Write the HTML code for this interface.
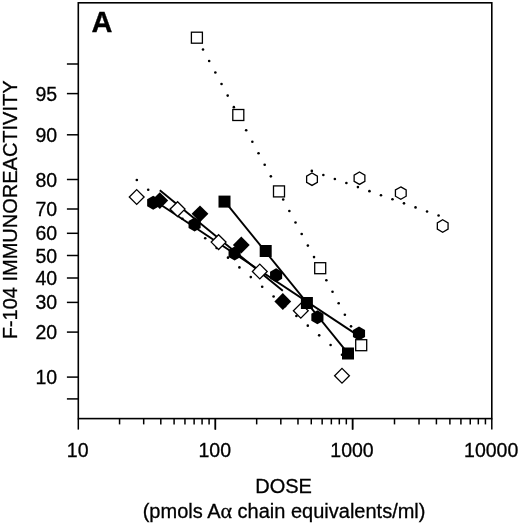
<!DOCTYPE html><html><head><meta charset="utf-8"><style>html,body{margin:0;padding:0;background:#fff;}svg{display:block;will-change:transform;}text{font-family:"Liberation Sans",sans-serif;fill:#000;stroke:#000;stroke-width:0.3px;}</style></head><body>
<svg width="520" height="525" viewBox="0 0 520 525">
<rect x="0" y="0" width="520" height="525" fill="#fff"/>
<rect x="78.3" y="2.8" width="413.5" height="415.8" fill="none" stroke="#000" stroke-width="1.6"/>
<line x1="66.9" y1="64.0" x2="78.3" y2="64.0" stroke="#000" stroke-width="1.5"/>
<line x1="66.9" y1="93.6" x2="78.3" y2="93.6" stroke="#000" stroke-width="1.5"/>
<line x1="66.9" y1="134.8" x2="78.3" y2="134.8" stroke="#000" stroke-width="1.5"/>
<line x1="66.9" y1="179.5" x2="78.3" y2="179.5" stroke="#000" stroke-width="1.5"/>
<line x1="66.9" y1="209.0" x2="78.3" y2="209.0" stroke="#000" stroke-width="1.5"/>
<line x1="66.9" y1="233.3" x2="78.3" y2="233.3" stroke="#000" stroke-width="1.5"/>
<line x1="66.9" y1="255.5" x2="78.3" y2="255.5" stroke="#000" stroke-width="1.5"/>
<line x1="66.9" y1="278.0" x2="78.3" y2="278.0" stroke="#000" stroke-width="1.5"/>
<line x1="66.9" y1="302.4" x2="78.3" y2="302.4" stroke="#000" stroke-width="1.5"/>
<line x1="66.9" y1="332.1" x2="78.3" y2="332.1" stroke="#000" stroke-width="1.5"/>
<line x1="66.9" y1="377.1" x2="78.3" y2="377.1" stroke="#000" stroke-width="1.5"/>
<line x1="66.9" y1="398.9" x2="78.3" y2="398.9" stroke="#000" stroke-width="1.5"/>
<line x1="78.3" y1="418.6" x2="78.3" y2="429.6" stroke="#000" stroke-width="1.5"/>
<line x1="119.56" y1="418.6" x2="119.56" y2="424.4" stroke="#000" stroke-width="1.5"/>
<line x1="143.69" y1="418.6" x2="143.69" y2="424.4" stroke="#000" stroke-width="1.5"/>
<line x1="160.81" y1="418.6" x2="160.81" y2="424.4" stroke="#000" stroke-width="1.5"/>
<line x1="174.09" y1="418.6" x2="174.09" y2="424.4" stroke="#000" stroke-width="1.5"/>
<line x1="184.95" y1="418.6" x2="184.95" y2="424.4" stroke="#000" stroke-width="1.5"/>
<line x1="194.12" y1="418.6" x2="194.12" y2="424.4" stroke="#000" stroke-width="1.5"/>
<line x1="202.07" y1="418.6" x2="202.07" y2="424.4" stroke="#000" stroke-width="1.5"/>
<line x1="209.08" y1="418.6" x2="209.08" y2="424.4" stroke="#000" stroke-width="1.5"/>
<line x1="215.35" y1="418.6" x2="215.35" y2="429.6" stroke="#000" stroke-width="1.5"/>
<line x1="215.35" y1="418.6" x2="215.35" y2="429.6" stroke="#000" stroke-width="1.5"/>
<line x1="256.67" y1="418.6" x2="256.67" y2="424.4" stroke="#000" stroke-width="1.5"/>
<line x1="280.83" y1="418.6" x2="280.83" y2="424.4" stroke="#000" stroke-width="1.5"/>
<line x1="297.98" y1="418.6" x2="297.98" y2="424.4" stroke="#000" stroke-width="1.5"/>
<line x1="311.28" y1="418.6" x2="311.28" y2="424.4" stroke="#000" stroke-width="1.5"/>
<line x1="322.15" y1="418.6" x2="322.15" y2="424.4" stroke="#000" stroke-width="1.5"/>
<line x1="331.34" y1="418.6" x2="331.34" y2="424.4" stroke="#000" stroke-width="1.5"/>
<line x1="339.3" y1="418.6" x2="339.3" y2="424.4" stroke="#000" stroke-width="1.5"/>
<line x1="346.32" y1="418.6" x2="346.32" y2="424.4" stroke="#000" stroke-width="1.5"/>
<line x1="352.6" y1="418.6" x2="352.6" y2="429.6" stroke="#000" stroke-width="1.5"/>
<line x1="352.6" y1="418.6" x2="352.6" y2="429.6" stroke="#000" stroke-width="1.5"/>
<line x1="394.5" y1="418.6" x2="394.5" y2="424.4" stroke="#000" stroke-width="1.5"/>
<line x1="419.02" y1="418.6" x2="419.02" y2="424.4" stroke="#000" stroke-width="1.5"/>
<line x1="436.41" y1="418.6" x2="436.41" y2="424.4" stroke="#000" stroke-width="1.5"/>
<line x1="449.9" y1="418.6" x2="449.9" y2="424.4" stroke="#000" stroke-width="1.5"/>
<line x1="460.92" y1="418.6" x2="460.92" y2="424.4" stroke="#000" stroke-width="1.5"/>
<line x1="470.24" y1="418.6" x2="470.24" y2="424.4" stroke="#000" stroke-width="1.5"/>
<line x1="478.31" y1="418.6" x2="478.31" y2="424.4" stroke="#000" stroke-width="1.5"/>
<line x1="485.43" y1="418.6" x2="485.43" y2="424.4" stroke="#000" stroke-width="1.5"/>
<line x1="491.8" y1="418.6" x2="491.8" y2="429.6" stroke="#000" stroke-width="1.5"/>
<text x="57.2" y="100.6" font-size="19.5" text-anchor="end">95</text>
<text x="57.2" y="141.8" font-size="19.5" text-anchor="end">90</text>
<text x="57.2" y="186.5" font-size="19.5" text-anchor="end">80</text>
<text x="57.2" y="216" font-size="19.5" text-anchor="end">70</text>
<text x="57.2" y="240.3" font-size="19.5" text-anchor="end">60</text>
<text x="57.2" y="262.5" font-size="19.5" text-anchor="end">50</text>
<text x="57.2" y="285" font-size="19.5" text-anchor="end">40</text>
<text x="57.2" y="309.4" font-size="19.5" text-anchor="end">30</text>
<text x="57.2" y="339.1" font-size="19.5" text-anchor="end">20</text>
<text x="57.2" y="384.1" font-size="19.5" text-anchor="end">10</text>
<text x="77.7" y="457.3" font-size="19.5" text-anchor="middle">10</text>
<text x="214.75" y="457.3" font-size="19.5" text-anchor="middle">100</text>
<text x="352" y="457.3" font-size="19.5" text-anchor="middle">1000</text>
<text x="491.2" y="457.3" font-size="19.5" text-anchor="middle">10000</text>
<text x="283.6" y="493.3" font-size="20" text-anchor="middle">DOSE</text>
<text x="284.1" y="517.7" font-size="20" text-anchor="middle">(pmols A<tspan font-family="Liberation Serif" font-size="22">&#945;</tspan> chain equivalents/ml)</text>
<text transform="translate(17.3,209.9) rotate(-90)" x="0" y="0" font-size="20" text-anchor="middle">F-104 IMMUNOREACTIVITY</text>
<text x="91.6" y="31.7" font-size="29" font-weight="bold">A</text>
<line x1="153.2" y1="199.82" x2="359" y2="336.15" stroke="#000" stroke-width="1.9"/>
<line x1="224.5" y1="201.1" x2="348" y2="353.39" stroke="#000" stroke-width="1.9"/>
<line x1="159.8" y1="190.34" x2="282.8" y2="290.64" stroke="#000" stroke-width="1.9"/>
<circle cx="196.85" cy="37.91" r="1.3" fill="#000"/>
<circle cx="203.02" cy="49.45" r="1.3" fill="#000"/>
<circle cx="209.18" cy="60.98" r="1.3" fill="#000"/>
<circle cx="215.35" cy="72.52" r="1.3" fill="#000"/>
<circle cx="221.52" cy="84.06" r="1.3" fill="#000"/>
<circle cx="227.69" cy="95.59" r="1.3" fill="#000"/>
<circle cx="233.85" cy="107.13" r="1.3" fill="#000"/>
<circle cx="240.02" cy="118.67" r="1.3" fill="#000"/>
<circle cx="246.19" cy="130.21" r="1.3" fill="#000"/>
<circle cx="252.35" cy="141.74" r="1.3" fill="#000"/>
<circle cx="258.52" cy="153.28" r="1.3" fill="#000"/>
<circle cx="264.69" cy="164.82" r="1.3" fill="#000"/>
<circle cx="270.85" cy="176.35" r="1.3" fill="#000"/>
<circle cx="277.02" cy="187.89" r="1.3" fill="#000"/>
<circle cx="283.19" cy="199.43" r="1.3" fill="#000"/>
<circle cx="289.36" cy="210.97" r="1.3" fill="#000"/>
<circle cx="295.52" cy="222.5" r="1.3" fill="#000"/>
<circle cx="301.69" cy="234.04" r="1.3" fill="#000"/>
<circle cx="307.86" cy="245.58" r="1.3" fill="#000"/>
<circle cx="314.02" cy="257.11" r="1.3" fill="#000"/>
<circle cx="320.19" cy="268.65" r="1.3" fill="#000"/>
<circle cx="326.36" cy="280.19" r="1.3" fill="#000"/>
<circle cx="332.52" cy="291.72" r="1.3" fill="#000"/>
<circle cx="338.69" cy="303.26" r="1.3" fill="#000"/>
<circle cx="344.86" cy="314.8" r="1.3" fill="#000"/>
<circle cx="351.02" cy="326.34" r="1.3" fill="#000"/>
<circle cx="357.19" cy="337.87" r="1.3" fill="#000"/>
<circle cx="311.82" cy="170.88" r="1.3" fill="#000"/>
<circle cx="323.34" cy="174.94" r="1.3" fill="#000"/>
<circle cx="334.87" cy="179" r="1.3" fill="#000"/>
<circle cx="346.39" cy="183.05" r="1.3" fill="#000"/>
<circle cx="357.91" cy="187.11" r="1.3" fill="#000"/>
<circle cx="369.44" cy="191.17" r="1.3" fill="#000"/>
<circle cx="380.96" cy="195.23" r="1.3" fill="#000"/>
<circle cx="392.48" cy="199.29" r="1.3" fill="#000"/>
<circle cx="404" cy="203.34" r="1.3" fill="#000"/>
<circle cx="415.53" cy="207.4" r="1.3" fill="#000"/>
<circle cx="427.05" cy="211.46" r="1.3" fill="#000"/>
<circle cx="438.57" cy="215.52" r="1.3" fill="#000"/>
<circle cx="136.82" cy="179.98" r="1.3" fill="#000"/>
<circle cx="148.22" cy="189.69" r="1.3" fill="#000"/>
<circle cx="159.62" cy="199.4" r="1.3" fill="#000"/>
<circle cx="171.01" cy="209.11" r="1.3" fill="#000"/>
<circle cx="182.41" cy="218.82" r="1.3" fill="#000"/>
<circle cx="193.81" cy="228.53" r="1.3" fill="#000"/>
<circle cx="205.21" cy="238.25" r="1.3" fill="#000"/>
<circle cx="216.61" cy="247.96" r="1.3" fill="#000"/>
<circle cx="228" cy="257.67" r="1.3" fill="#000"/>
<circle cx="239.4" cy="267.38" r="1.3" fill="#000"/>
<circle cx="250.8" cy="277.09" r="1.3" fill="#000"/>
<circle cx="262.2" cy="286.8" r="1.3" fill="#000"/>
<circle cx="273.6" cy="296.51" r="1.3" fill="#000"/>
<circle cx="284.99" cy="306.22" r="1.3" fill="#000"/>
<circle cx="296.39" cy="315.93" r="1.3" fill="#000"/>
<circle cx="307.79" cy="325.64" r="1.3" fill="#000"/>
<circle cx="319.19" cy="335.36" r="1.3" fill="#000"/>
<circle cx="330.59" cy="345.07" r="1.3" fill="#000"/>
<circle cx="341.98" cy="354.78" r="1.3" fill="#000"/>
<path d="M153.2,195.8 L159.26,199.3 L159.26,206.3 L153.2,209.8 L147.14,206.3 L147.14,199.3 Z" fill="#000"/>
<path d="M194.6,217.6 L200.66,221.1 L200.66,228.1 L194.6,231.6 L188.54,228.1 L188.54,221.1 Z" fill="#000"/>
<path d="M234.6,246.4 L240.66,249.9 L240.66,256.9 L234.6,260.4 L228.54,256.9 L228.54,249.9 Z" fill="#000"/>
<path d="M276.1,268.3 L282.16,271.8 L282.16,278.8 L276.1,282.3 L270.04,278.8 L270.04,271.8 Z" fill="#000"/>
<path d="M317.4,310.2 L323.46,313.7 L323.46,320.7 L317.4,324.2 L311.34,320.7 L311.34,313.7 Z" fill="#000"/>
<path d="M359,326.5 L365.06,330 L365.06,337 L359,340.5 L352.94,337 L352.94,330 Z" fill="#000"/>
<rect x="191.4" y="32.2" width="11" height="11" fill="#fff" stroke="#000" stroke-width="1.3"/>
<rect x="232.8" y="109.5" width="11" height="11" fill="#fff" stroke="#000" stroke-width="1.3"/>
<rect x="273.5" y="185.9" width="11" height="11" fill="#fff" stroke="#000" stroke-width="1.3"/>
<rect x="314.7" y="262.7" width="11" height="11" fill="#fff" stroke="#000" stroke-width="1.3"/>
<rect x="355.7" y="339.7" width="11" height="11" fill="#fff" stroke="#000" stroke-width="1.3"/>
<path d="M312,173 L317.37,176.1 L317.37,182.3 L312,185.4 L306.63,182.3 L306.63,176.1 Z" fill="#fff" stroke="#000" stroke-width="1.3"/>
<path d="M359.5,172 L364.87,175.1 L364.87,181.3 L359.5,184.4 L354.13,181.3 L354.13,175.1 Z" fill="#fff" stroke="#000" stroke-width="1.3"/>
<path d="M400.8,186.9 L406.17,190 L406.17,196.2 L400.8,199.3 L395.43,196.2 L395.43,190 Z" fill="#fff" stroke="#000" stroke-width="1.3"/>
<path d="M442.7,219.8 L448.07,222.9 L448.07,229.1 L442.7,232.2 L437.33,229.1 L437.33,222.9 Z" fill="#fff" stroke="#000" stroke-width="1.3"/>
<path d="M136.7,189.6 L144.1,197 L136.7,204.4 L129.3,197 Z" fill="#fff" stroke="#000" stroke-width="1.3"/>
<path d="M177.6,201.7 L185,209.1 L177.6,216.5 L170.2,209.1 Z" fill="#fff" stroke="#000" stroke-width="1.3"/>
<path d="M218.6,234.7 L226,242.1 L218.6,249.5 L211.2,242.1 Z" fill="#fff" stroke="#000" stroke-width="1.3"/>
<path d="M259.8,264.1 L267.2,271.5 L259.8,278.9 L252.4,271.5 Z" fill="#fff" stroke="#000" stroke-width="1.3"/>
<path d="M300.8,303.4 L308.2,310.8 L300.8,318.2 L293.4,310.8 Z" fill="#fff" stroke="#000" stroke-width="1.3"/>
<path d="M342,368.4 L349.4,375.8 L342,383.2 L334.6,375.8 Z" fill="#fff" stroke="#000" stroke-width="1.3"/>
<rect x="218.5" y="195.6" width="12" height="12" fill="#000"/>
<rect x="259.7" y="245" width="12" height="12" fill="#000"/>
<rect x="300.9" y="297" width="12" height="12" fill="#000"/>
<rect x="342" y="347.5" width="12" height="12" fill="#000"/>
<path d="M159.8,192.2 L168.2,200.6 L159.8,209 L151.4,200.6 Z" fill="#000"/>
<path d="M200,205.4 L208.4,213.8 L200,222.2 L191.6,213.8 Z" fill="#000"/>
<path d="M241.3,236.6 L249.7,245 L241.3,253.4 L232.9,245 Z" fill="#000"/>
<path d="M282.8,293.1 L291.2,301.5 L282.8,309.9 L274.4,301.5 Z" fill="#000"/>
</svg></body></html>
